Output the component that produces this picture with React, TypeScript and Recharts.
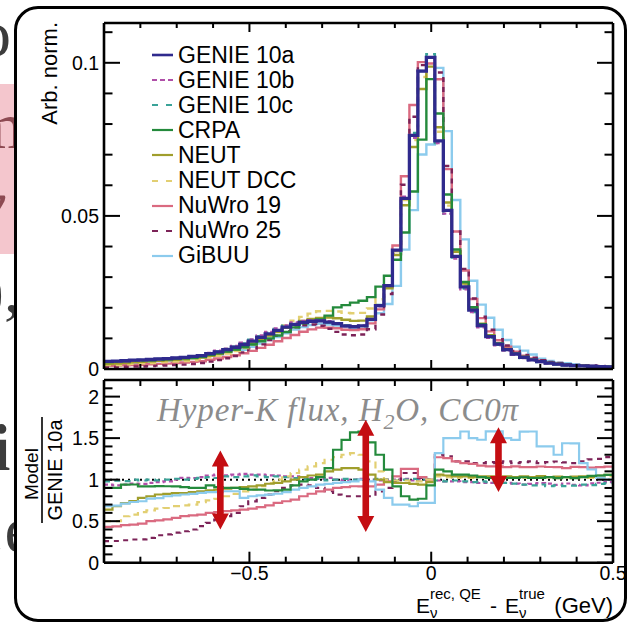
import React from "react";
import { LineChart, Line, XAxis, YAxis, ReferenceLine, Legend } from "recharts";

const FONT = '"Liberation Sans", Arial, Helvetica, sans-serif';

// 60 equal-width bins of E_rec - E_true (GeV)
const X_MIN = -0.9;
const X_MAX = 0.5;
const N_BINS = 60;

// arbitrarily normalised distributions, one value per bin
const GENIE_10A = [
  0.0025, 0.0026, 0.0027, 0.0029, 0.003, 0.0031, 0.0033, 0.0034, 0.0036, 0.0038,
  0.0041, 0.0044, 0.005, 0.0056, 0.0063, 0.0071, 0.008, 0.0091, 0.0103, 0.0115,
  0.0126, 0.0137, 0.0146, 0.0152, 0.0156, 0.0157, 0.0153, 0.0148, 0.0141, 0.0138,
  0.0141, 0.0162, 0.0207, 0.0272, 0.0388, 0.0557, 0.0763, 0.0973, 0.1018, 0.0745,
  0.0518, 0.0368, 0.0268, 0.0192, 0.0142, 0.0106, 0.0081, 0.0063, 0.0049, 0.0038,
  0.003, 0.0024, 0.0019, 0.0016, 0.0013, 0.0011, 0.001, 0.0009, 0.0008, 0.0007,
];
const GENIE_10B = [
  0.00235, 0.00242, 0.00254, 0.00276, 0.00285, 0.00298, 0.0032, 0.00333, 0.0036, 0.00388,
  0.00418, 0.00453, 0.00525, 0.00594, 0.00662, 0.00753, 0.00856, 0.00965, 0.01092, 0.01208,
  0.01323, 0.01425, 0.01518, 0.01566, 0.01591, 0.01586, 0.01561, 0.0148, 0.01396, 0.0138,
  0.01424, 0.0162, 0.02049, 0.0272, 0.0388, 0.05626, 0.07554, 0.0973, 0.1018, 0.07376,
  0.05076, 0.03606, 0.026, 0.01862, 0.01363, 0.01018, 0.0077, 0.00605, 0.00466, 0.00357,
  0.00285, 0.0023, 0.00181, 0.0015, 0.00124, 0.00103, 0.00093, 0.00086, 0.00077, 0.00068,
];
const GENIE_10C = [
  0.00245, 0.00257, 0.00265, 0.0029, 0.00297, 0.0031, 0.00327, 0.0034, 0.00364, 0.0038,
  0.00414, 0.00449, 0.00515, 0.00571, 0.00655, 0.00731, 0.00832, 0.00956, 0.01071, 0.01185,
  0.0131, 0.01411, 0.01489, 0.01535, 0.0156, 0.01586, 0.01515, 0.0148, 0.01424, 0.0138,
  0.01396, 0.0162, 0.02091, 0.0272, 0.03841, 0.0557, 0.07706, 0.0973, 0.10282, 0.07376,
  0.05076, 0.03643, 0.02626, 0.01862, 0.01392, 0.01028, 0.00794, 0.00605, 0.00466, 0.00357,
  0.00279, 0.00226, 0.00175, 0.00149, 0.0012, 0.00102, 0.00094, 0.00084, 0.00076, 0.00067,
];
const CRPA = [
  0.00225, 0.00234, 0.00254, 0.00273, 0.00276, 0.00285, 0.00304, 0.00313, 0.00331, 0.00346,
  0.00369, 0.00396, 0.00465, 0.0051, 0.00567, 0.00639, 0.00712, 0.00801, 0.00906, 0.01,
  0.01096, 0.01206, 0.01358, 0.0149, 0.0156, 0.01617, 0.01744, 0.02013, 0.02087, 0.02167,
  0.02228, 0.02349, 0.02691, 0.03046, 0.0357, 0.04456, 0.05799, 0.07492, 0.09467, 0.08344,
  0.05698, 0.03901, 0.02841, 0.02016, 0.01463, 0.01081, 0.00834, 0.00643, 0.005, 0.00391,
  0.00306, 0.00245, 0.00196, 0.00163, 0.00134, 0.00112, 0.00103, 0.00094, 0.00084, 0.00074,
];
const NEUT = [
  0.0016, 0.00177, 0.00194, 0.00215, 0.00234, 0.00248, 0.00271, 0.00282, 0.00302, 0.00319,
  0.00349, 0.00378, 0.00435, 0.00493, 0.00561, 0.00639, 0.00728, 0.00837, 0.00958, 0.01093,
  0.0121, 0.01343, 0.0146, 0.01566, 0.01638, 0.01664, 0.01683, 0.01658, 0.01607, 0.01573,
  0.01579, 0.01717, 0.0207, 0.02638, 0.03725, 0.05347, 0.07249, 0.09146, 0.09875, 0.07897,
  0.05439, 0.03827, 0.02787, 0.01978, 0.01477, 0.01102, 0.00834, 0.00655, 0.00505, 0.00395,
  0.00309, 0.0025, 0.00196, 0.00166, 0.00134, 0.00114, 0.00104, 0.00093, 0.00084, 0.00074,
];
const NEUT_DCC = [
  0.00125, 0.0013, 0.00151, 0.00168, 0.00183, 0.00195, 0.00215, 0.00224, 0.00245, 0.00262,
  0.00287, 0.00321, 0.00375, 0.00431, 0.00504, 0.00589, 0.00688, 0.00801, 0.00948, 0.01104,
  0.0126, 0.01425, 0.01577, 0.01702, 0.0181, 0.01884, 0.01897, 0.0188, 0.01833, 0.01822,
  0.01833, 0.01976, 0.02277, 0.0272, 0.03841, 0.05514, 0.07477, 0.09535, 0.1018, 0.07748,
  0.05335, 0.03754, 0.0276, 0.01958, 0.01463, 0.01081, 0.00834, 0.00643, 0.00505, 0.00388,
  0.00309, 0.00245, 0.00196, 0.00163, 0.00134, 0.00112, 0.00103, 0.00092, 0.00082, 0.00073,
];
const NUWRO_19 = [
  0.00108, 0.00114, 0.00122, 0.00133, 0.00141, 0.00155, 0.00168, 0.00177, 0.00194, 0.00213,
  0.00234, 0.00255, 0.003, 0.00342, 0.00391, 0.00447, 0.00512, 0.00592, 0.0069, 0.00794,
  0.00907, 0.01014, 0.0111, 0.01216, 0.01295, 0.0135, 0.01346, 0.01332, 0.01283, 0.0127,
  0.01297, 0.0149, 0.01946, 0.02666, 0.04035, 0.06294, 0.08622, 0.10022, 0.09976, 0.09462,
  0.06527, 0.0449, 0.03216, 0.02285, 0.01661, 0.0123, 0.0094, 0.00725, 0.00568, 0.00437,
  0.00345, 0.00278, 0.00219, 0.00184, 0.00148, 0.00127, 0.00115, 0.00103, 0.00092, 0.00081,
];
const NUWRO_25 = [
  0.00065, 0.00068, 0.00073, 0.00081, 0.00084, 0.00093, 0.00109, 0.00116, 0.0013, 0.00144,
  0.00164, 0.00194, 0.0024, 0.00291, 0.00353, 0.00426, 0.00544, 0.00673, 0.00803, 0.00943,
  0.01084, 0.01233, 0.01358, 0.01429, 0.01451, 0.01413, 0.01316, 0.01214, 0.01128, 0.01104,
  0.01128, 0.01296, 0.0178, 0.02448, 0.03764, 0.06016, 0.0824, 0.09925, 0.1018, 0.09685,
  0.0663, 0.0449, 0.0327, 0.02304, 0.01704, 0.01283, 0.00972, 0.00769, 0.00588, 0.0046,
  0.00366, 0.00288, 0.0023, 0.00195, 0.00157, 0.00132, 0.00122, 0.00112, 0.001, 0.00089,
];
const GIBUU = [
  0.0017, 0.00179, 0.00192, 0.00212, 0.00222, 0.00239, 0.00257, 0.00272, 0.00292, 0.00312,
  0.0034, 0.0037, 0.00425, 0.00476, 0.00542, 0.00611, 0.00624, 0.00728, 0.00834, 0.00943,
  0.01046, 0.01165, 0.01285, 0.01368, 0.01435, 0.01476, 0.01454, 0.01421, 0.01368, 0.01352,
  0.0141, 0.01588, 0.01822, 0.02122, 0.02716, 0.039, 0.05188, 0.07006, 0.0733, 0.09834,
  0.0777, 0.0552, 0.04234, 0.0288, 0.02102, 0.01675, 0.0128, 0.00945, 0.00725, 0.006,
  0.00474, 0.00336, 0.00266, 0.00208, 0.00187, 0.00158, 0.0012, 0.00101, 0.00082, 0.0007,
];

const X_TICKS = [-0.9, -0.8, -0.7, -0.6, -0.5, -0.4, -0.3, -0.2, -0.1, 0, 0.1, 0.2, 0.3, 0.4, 0.5];
const Y_TICKS_TOP = [0, 0.01, 0.02, 0.03, 0.04, 0.05, 0.06, 0.07, 0.08, 0.09, 0.1, 0.11];
const Y_TICKS_RATIO = [
  0, 0.1, 0.2, 0.3, 0.4, 0.5, 0.6, 0.7, 0.8, 0.9, 1, 1.1, 1.2, 1.3, 1.4, 1.5, 1.6, 1.7, 1.8,
  1.9, 2, 2.1, 2.2,
];

// spread markers on the ratio panel
const ARROW_X = [-0.58, -0.18, 0.185];
const ARROW_LOW = [0.4, 0.37, 0.85];
const ARROW_HIGH = [1.35, 1.72, 1.63];

type Series = {
  key: string;
  name: string;
  values: number[];
  color: string;
  dash?: string;
  legendDash?: string;
};

const SERIES: Series[] = [
  { key: "genie10a", name: "GENIE 10a", values: GENIE_10A, color: "#2f2a8d" },
  { key: "genie10b", name: "GENIE 10b", values: GENIE_10B, color: "#b04fa8", dash: "4 3", legendDash: "5 3" },
  { key: "genie10c", name: "GENIE 10c", values: GENIE_10C, color: "#3aa398", dash: "6 5", legendDash: "6 8" },
  { key: "crpa", name: "CRPA", values: CRPA, color: "#248a3c" },
  { key: "neut", name: "NEUT", values: NEUT, color: "#a09e2c" },
  { key: "neutDcc", name: "NEUT DCC", values: NEUT_DCC, color: "#e2cf72", dash: "7 5", legendDash: "6 8" },
  { key: "nuwro19", name: "NuWro 19", values: NUWRO_19, color: "#da6a80" },
  { key: "nuwro25", name: "NuWro 25", values: NUWRO_25, color: "#7c2358", dash: "5 5", legendDash: "6 8" },
  { key: "gibuu", name: "GiBUU", values: GIBUU, color: "#8ccbed" },
];

const byKey = (k: string) => SERIES.find((s) => s.key === k)!;
const TOP_ORDER = ["gibuu", "nuwro19", "nuwro25", "neutDcc", "neut", "crpa", "genie10c", "genie10b", "genie10a"];
const RATIO_ORDER = ["genie10b", "genie10c", "nuwro25", "nuwro19", "neutDcc", "neut", "gibuu", "crpa"];

// step rows: one per lower bin edge plus the closing upper edge
const histRows = Array.from({ length: N_BINS + 1 }, (_, k) => {
  const row: Record<string, number> = { x: X_MIN + (k * (X_MAX - X_MIN)) / N_BINS };
  const i = Math.min(k, N_BINS - 1);
  SERIES.forEach((s) => {
    row[s.key] = s.values[i];
  });
  return row;
});

// Model / GENIE 10a
const ratioRows = histRows.map((r) => {
  const row: Record<string, number> = { x: r.x };
  SERIES.forEach((s) => {
    row[s.key] = r[s.key] / r.genie10a;
  });
  return row;
});

const FRAME = { stroke: "#000", strokeWidth: 2.6 };

const isMajor = (v: number, step: number) => Math.abs(v / step - Math.round(v / step)) < 1e-6;

type Side = "left" | "right" | "top" | "bottom";

// ROOT-style ticks pointing into the frame
const makeTick =
  (side: Side, step: number, majorLen: number, minorLen: number, label?: (v: number) => string) =>
  (props: any) => {
    const { x, y, payload } = props;
    const v = payload.value as number;
    const major = isMajor(v, step);
    const len = major ? majorLen : minorLen;
    const dx = side === "left" ? len : side === "right" ? -len : 0;
    const dy = side === "bottom" ? -len : side === "top" ? len : 0;
    let text = null;
    if (label && major) {
      text =
        side === "left" ? (
          <text x={x - 5} y={y} dy="0.36em" textAnchor="end" fontFamily={FONT} fontSize={19.5} fill="#000">
            {label(v)}
          </text>
        ) : (
          <text x={x} y={y + 17.5} textAnchor="middle" fontFamily={FONT} fontSize={19.5} fill="#000">
            {label(v)}
          </text>
        );
    }
    return (
      <g>
        <line x1={x} y1={y} x2={x + dx} y2={y + dy} stroke="#000" strokeWidth={2} />
        {text}
      </g>
    );
  };

const fmtPlain = (v: number) => String(Number(v.toFixed(2)));
const fmtX = (v: number) => (v < 0 ? "\u2212" + fmtPlain(-v) : fmtPlain(v));

const DoubleArrow = (props: any) => {
  const { x1, y1, y2 } = props;
  const top = Math.min(y1, y2);
  const bot = Math.max(y1, y2);
  const hw = 8.5;
  const hh = 16;
  const sw = 3.3;
  const d = [
    `M${x1},${top}`,
    `L${x1 + hw},${top + hh}`,
    `L${x1 + sw},${top + hh}`,
    `L${x1 + sw},${bot - hh}`,
    `L${x1 + hw},${bot - hh}`,
    `L${x1},${bot}`,
    `L${x1 - hw},${bot - hh}`,
    `L${x1 - sw},${bot - hh}`,
    `L${x1 - sw},${top + hh}`,
    `L${x1 - hw},${top + hh}`,
    "Z",
  ].join(" ");
  return <path d={d} fill="#c40d12" stroke="none" />;
};

const LegendBox = () => (
  <div style={{ fontFamily: FONT, fontSize: 23, color: "#000" }}>
    {SERIES.map((s) => (
      <div key={s.key} style={{ display: "flex", alignItems: "center", height: 25.1, whiteSpace: "nowrap" }}>
        <svg width={26} height={6} style={{ marginRight: 2 }}>
          <line
            x1={2}
            y1={3}
            x2={23}
            y2={3}
            stroke={s.color}
            strokeWidth={s.key === "genie10a" ? 2.6 : 2.2}
            strokeDasharray={s.legendDash}
          />
        </svg>
        <span>{s.name}</span>
      </div>
    ))}
  </div>
);

// axes are 1px thick so that they still render; ticks sit on the frame
const xAxes = (labels: boolean, major: number, minor: number) => [
  <XAxis
    key="xb"
    dataKey="x"
    type="number"
    domain={[X_MIN, X_MAX]}
    allowDataOverflow
    ticks={X_TICKS}
    interval={0}
    height={1}
    tickSize={0}
    tickMargin={0}
    tickLine={false}
    axisLine={FRAME}
    tick={makeTick("bottom", 0.5, major, minor, labels ? fmtX : undefined)}
  />,
  <XAxis
    key="xt"
    xAxisId="top"
    orientation="top"
    dataKey="x"
    type="number"
    domain={[X_MIN, X_MAX]}
    allowDataOverflow
    ticks={X_TICKS}
    interval={0}
    height={1}
    tickSize={0}
    tickMargin={0}
    tickLine={false}
    axisLine={FRAME}
    tick={makeTick("top", 0.5, major, minor)}
  />,
];

const yAxes = (domain: [number, number], ticks: number[], step: number) => [
  <YAxis
    key="yl"
    type="number"
    domain={domain}
    allowDataOverflow
    ticks={ticks}
    interval={0}
    width={104}
    tickSize={0}
    tickMargin={0}
    tickLine={false}
    axisLine={FRAME}
    tick={makeTick("left", step, 16, 8.5, fmtPlain)}
  />,
  <YAxis
    key="yr"
    yAxisId="r"
    orientation="right"
    type="number"
    domain={domain}
    allowDataOverflow
    ticks={ticks}
    interval={0}
    width={1}
    tickSize={0}
    tickMargin={0}
    tickLine={false}
    axisLine={FRAME}
    tick={makeTick("right", step, 16, 8.5)}
  />,
];

// partly hidden slide text to the left of the framed figure
const SideText = () => (
  <svg width={627} height={623} style={{ position: "absolute", left: 0, top: 0 }}>
    <rect x={0} y={84} width={30} height={170} fill="#f4c6cd" />
    <g fontFamily='"Liberation Serif", "DejaVu Serif", serif' fontSize={66}>
      <text x={-22} y={56} fill="#3c3c3c">o</text>
      <text x={-28} y={148} fill="#8d4a52">m</text>
      <text x={-24} y={226} fill="#8d4a52" fontStyle="italic">y</text>
      <text x={-18} y={312} fill="#3c3c3c">),</text>
      <text x={-8} y={470} fill="#3c3c3c" fontWeight="bold">i</text>
      <text x={-12} y={552} fill="#3c3c3c">.e</text>
    </g>
  </svg>
);

const Titles = () => (
  <svg width={627} height={623} style={{ position: "absolute", left: 0, top: 0, pointerEvents: "none" }}>
    <g fontFamily={FONT} fill="#000">
      <text x={57} y={22} fontSize={22} textAnchor="end" transform="rotate(-90 57 22)">
        Arb. norm.
      </text>
      <text x={38} y={474} fontSize={19} textAnchor="middle" transform="rotate(-90 38 474)">
        Model
      </text>
      <line x1={42} y1={417} x2={42} y2={523} stroke="#000" strokeWidth={1.6} />
      <text x={62} y={470} fontSize={20} textAnchor="middle" transform="rotate(-90 62 470)">
        GENIE 10a
      </text>
      <text fontSize={21}>
        <tspan x={416} y={613}>E</tspan>
        <tspan x={430} y={599} fontSize={15}>rec, QE</tspan>
        <tspan x={430} y={618} fontSize={15}>ν</tspan>
        <tspan x={490} y={613}>-</tspan>
        <tspan x={505} y={613}>E</tspan>
        <tspan x={519} y={599} fontSize={15}>true</tspan>
        <tspan x={519} y={618} fontSize={15}>ν</tspan>
      </text>
      <text x={613} y={613} fontSize={22} textAnchor="end">
        (GeV)
      </text>
    </g>
  </svg>
);

const Annotation = () => (
  <svg width={627} height={623} style={{ position: "absolute", left: 0, top: 0 }}>
    <text
      x={157}
      y={421}
      fontFamily='"Liberation Serif", "DejaVu Serif", serif'
      fontStyle="italic"
      fontSize={33}
      letterSpacing={0.9}
      fill="#8c8c8c"
    >
      Hyper-K flux, H
      <tspan dy={8} fontSize={22}>2</tspan>
      <tspan dy={-8}>O, CC0π</tspan>
    </text>
  </svg>
);

export default function App() {
  return (
    <div
      style={{
        position: "absolute",
        left: 0,
        top: 0,
        width: 627,
        height: 623,
        overflow: "hidden",
        background: "#fff",
      }}
    >
      <SideText />
      <div
        style={{
          position: "absolute",
          left: 14,
          top: 6,
          width: 613,
          height: 616,
          boxSizing: "border-box",
          border: "3px solid #000",
          borderRadius: 24,
          background: "#fff",
        }}
      />
      <Annotation />

      <div style={{ position: "absolute", left: 0, top: 0 }}>
        <LineChart width={627} height={380} data={histRows} margin={{ top: 22, right: 13, bottom: 10, left: 0 }}>
          {xAxes(false, 9, 5)}
          {yAxes([0, 0.113], Y_TICKS_TOP, 0.05)}
          {TOP_ORDER.map((k) => {
            const s = byKey(k);
            return (
              <Line
                key={k}
                type="stepAfter"
                dataKey={k}
                name={s.name}
                stroke={s.color}
                strokeWidth={k === "genie10a" ? 3.3 : 2.4}
                strokeDasharray={s.dash}
                dot={false}
                activeDot={false}
                isAnimationActive={false}
              />
            );
          })}
          <Legend
            layout="vertical"
            align="center"
            verticalAlign="middle"
            wrapperStyle={{ left: 150, top: 42.5, width: 220 }}
            content={() => <LegendBox />}
          />
        </LineChart>
      </div>

      <div style={{ position: "absolute", left: 0, top: 376 }}>
        <LineChart width={627} height={247} data={ratioRows} margin={{ top: 3, right: 13, bottom: 59.3, left: 0 }}>
          {xAxes(true, 11, 6)}
          {yAxes([0, 2.2], Y_TICKS_RATIO, 0.5)}
          <ReferenceLine y={1} stroke="#000" strokeWidth={2} strokeDasharray="2 4" />
          {RATIO_ORDER.map((k) => {
            const s = byKey(k);
            return (
              <Line
                key={k}
                type="stepAfter"
                dataKey={k}
                name={s.name}
                stroke={s.color}
                strokeWidth={2.2}
                strokeDasharray={s.dash}
                dot={false}
                activeDot={false}
                isAnimationActive={false}
              />
            );
          })}
          {ARROW_X.map((ax, i) => (
            <ReferenceLine
              key={`arrow-${i}`}
              segment={[
                { x: ax, y: ARROW_LOW[i] },
                { x: ax, y: ARROW_HIGH[i] },
              ]}
              shape={DoubleArrow}
            />
          ))}
        </LineChart>
      </div>

      <Titles />
    </div>
  );
}
